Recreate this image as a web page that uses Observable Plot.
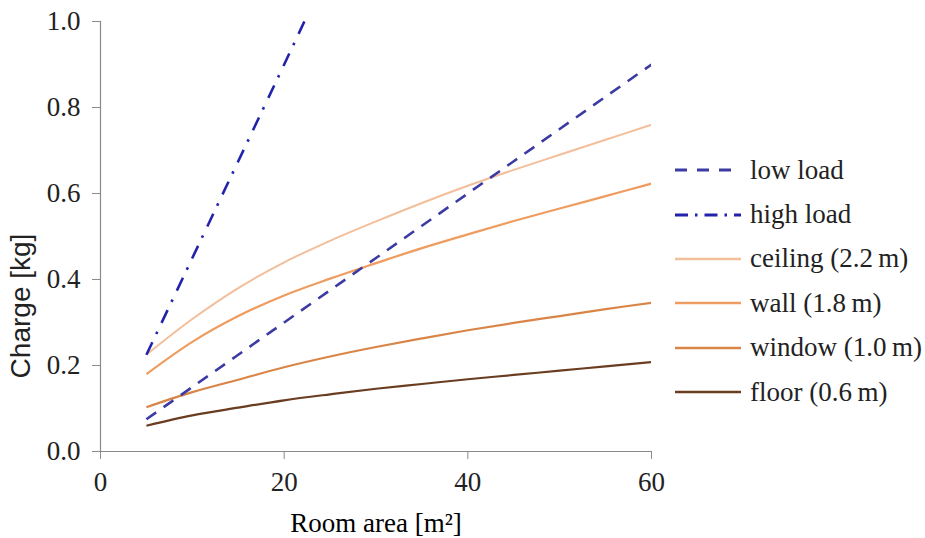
<!DOCTYPE html>
<html>
<head>
<meta charset="utf-8">
<script src="https://cdn.jsdelivr.net/npm/d3@7"></script>
<script src="https://cdn.jsdelivr.net/npm/@observablehq/plot@0.6"></script>
<style>
  html, body { margin: 0; padding: 0; background: #fff; }
  #wrap { position: relative; width: 925px; height: 538px; overflow: hidden; }
  #chart svg { font-family: "Liberation Serif", "Times New Roman", serif; }
  #chart g[aria-label="x-axis tick"] path, #chart g[aria-label="y-axis tick"] path { stroke: #8a8a8a; }
  #chart g[aria-label="x-axis tick label"], #chart g[aria-label="y-axis tick label"] { fill: #222; }
  #ytitle { position: absolute; left: 21px; top: 306px; transform: translate(-50%, -50%) rotate(-90deg);
            font-family: "Liberation Sans", Arial, sans-serif; font-size: 28px; color: #222; white-space: nowrap; line-height: 1; }
  #legend { position: absolute; left: 675px; top: 148px; font-family: "Liberation Serif", "Times New Roman", serif; font-size: 27px; color: #222; }
  .item { display: flex; align-items: center; height: 44.4px; white-space: nowrap; }
  .item svg { width: 66px; height: 10px; margin-right: 9px; flex: none; }
</style>
</head>
<body>
<div id="wrap">
  <div id="chart"></div>
  <div id="ytitle"></div>
  <div id="legend"></div>
</div>
<script>
// ---- data ----
const areas = [5, 10, 15, 20, 25, 30, 35, 40, 45, 50, 55, 60];
const lowLoad = [0.075, 0.15, 0.225, 0.30, 0.375, 0.45, 0.525, 0.60, 0.675, 0.75, 0.825, 0.90];
const highLoadAreas = [5, 10, 15, 20, 22.2];
const highLoad = [0.225, 0.45, 0.675, 0.90, 1.0];
const ceiling = [0.225, 0.308, 0.380, 0.440, 0.490, 0.535, 0.578, 0.618, 0.655, 0.690, 0.725, 0.760];
const wall    = [0.180, 0.255, 0.315, 0.363, 0.402, 0.438, 0.473, 0.505, 0.536, 0.565, 0.594, 0.623];
const windowS = [0.103, 0.138, 0.167, 0.196, 0.221, 0.243, 0.263, 0.282, 0.299, 0.315, 0.331, 0.346];
const floor   = [0.060, 0.084, 0.102, 0.119, 0.133, 0.146, 0.157, 0.168, 0.178, 0.188, 0.198, 0.208];
const seriesNames = ["low load", "high load", "ceiling (2.2\u2009m)", "wall (1.8\u2009m)", "window (1.0\u2009m)", "floor (0.6\u2009m)"];
const xTicks = [0, 20, 40, 60];
const yTicks = [0, 0.2, 0.4, 0.6, 0.8, 1.0];
const xTitle = "Room area [m\u00B2]";
const yTitle = "Charge [kg]";

// ---- styles ----
const styles = [
  {stroke: "#3B3BA3", width: 2.6, dash: "12,9"},
  {stroke: "#2222AA", width: 2.6, dash: "14,9,2.5,10"},
  {stroke: "#F3BE9A", width: 2, dash: null},
  {stroke: "#EE9C60", width: 2.2, dash: null},
  {stroke: "#D98548", width: 2.2, dash: null},
  {stroke: "#6A3C20", width: 2.2, dash: null}
];

const toRows = (xs, ys) => xs.map((x, i) => ({x, y: ys[i]}));
const seriesData = [
  toRows(areas, lowLoad),
  toRows(highLoadAreas, highLoad),
  toRows(areas, ceiling),
  toRows(areas, wall),
  toRows(areas, windowS),
  toRows(areas, floor)
];

const order = [5, 4, 3, 2, 0, 1];
const lineMarks = order.map(i => Plot.line(seriesData[i], {
  x: "x", y: "y",
  stroke: styles[i].stroke,
  strokeWidth: styles[i].width,
  strokeDasharray: styles[i].dash || undefined,
  strokeLinecap: "butt",
  curve: "catmull-rom",
  clip: true
}));

const chart = Plot.plot({
  width: 672,
  height: 538,
  marginLeft: 100,
  marginRight: 21,
  marginTop: 21,
  marginBottom: 87,
  style: {fontSize: "27px", fontFamily: "Liberation Serif, Times New Roman, serif", background: "white"},
  x: {domain: [0, 60]},
  y: {domain: [0, 1]},
  marks: [
    Plot.ruleY([0], {stroke: "#8a8a8a", strokeWidth: 1.2}),
    Plot.ruleX([0], {stroke: "#8a8a8a", strokeWidth: 1.2}),
    Plot.axisX({ticks: xTicks, tickSize: 8, tickPadding: 12, tickFormat: d => d3.format("d")(d),
      label: xTitle, labelArrow: "none", labelAnchor: "center", labelOffset: 80, fontSize: 27}),
    Plot.axisY({ticks: yTicks, tickSize: 8, tickPadding: 12, tickFormat: d => d3.format(".1f")(d),
      label: null, fontSize: 27}),
    ...lineMarks
  ]
});
document.getElementById("chart").appendChild(chart);
document.getElementById("ytitle").textContent = yTitle;

// ---- legend ----
const legend = document.getElementById("legend");
seriesNames.forEach((name, i) => {
  const s = styles[i];
  const item = document.createElement("div");
  item.className = "item";
  const dash = s.dash ? (i === 1 ? "13,7,2.5,7" : "12,10") : "";
  item.innerHTML = `<svg viewBox="0 0 66 10"><line x1="0" y1="5" x2="66" y2="5" stroke="${s.stroke}" stroke-width="${s.width + 0.4}" ${dash ? `stroke-dasharray="${dash}"` : ""}/></svg><span>${name}</span>`;
  legend.appendChild(item);
});
</script>
</body>
</html>
